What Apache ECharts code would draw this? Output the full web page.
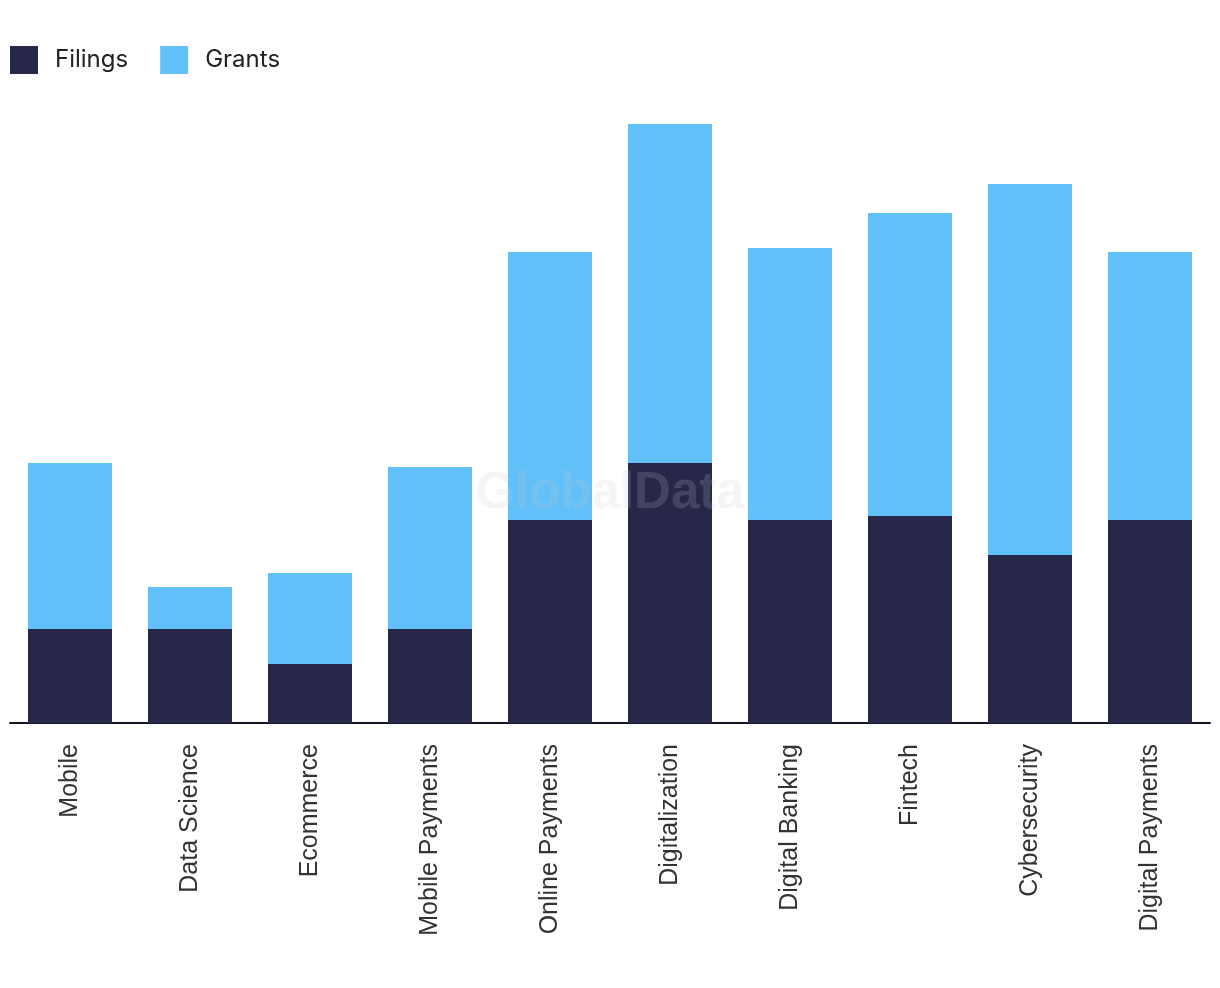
<!DOCTYPE html>
<html><head><meta charset="utf-8">
<script src="https://cdn.jsdelivr.net/npm/echarts@6/dist/echarts.min.js"></script>
<style>html,body{margin:0;padding:0;background:#fff}#c{width:1220px;height:988px}</style>
</head><body><div id="c"></div>
<script>
const categories = ['Mobile','Data Science','Ecommerce','Mobile Payments','Online Payments','Digitalization','Digital Banking','Fintech','Cybersecurity','Digital Payments'];
const filings = [94, 94, 59, 94, 203, 260, 203, 207, 168, 203];
const grants = [166, 42, 91, 162, 268, 339, 272, 303, 371, 268];

const chart = echarts.init(document.getElementById('c'));
chart.setOption({
  animation: false,
  backgroundColor: '#ffffff',
  legend: {
    left: 5, top: 41, itemWidth: 28, itemHeight: 28, itemGap: 32,
    icon: 'rect',
    textStyle: { fontFamily: 'Inter', fontSize: 24, color: '#222', padding: [0,0,0,12] },
    data: ['Filings','Grants']
  },
  graphic: [{
    type: 'text', z: 100,
    style: { x: 610, y: 494, text: 'GlobalData', textAlign: 'center', textVerticalAlign: 'middle',
      font: 'bold 51px "Liberation Sans"', fill: 'rgba(200,200,210,0.18)' }
  }],
  grid: { left: 10, right: 10, top: 73, bottom: 265, containLabel: false },
  xAxis: {
    type: 'category', data: categories,
    axisLine: { lineStyle: { color: '#14142a', width: 2 } },
    axisTick: { show: false },
    axisLabel: { rotate: 90, margin: 21, fontSize: 25, color: '#333', fontFamily: 'Liberation Sans', interval: 0 }
  },
  yAxis: { type: 'value', min: 0, max: 650, show: false, splitLine: { show: false } },
  series: [
    { name: 'Filings', type: 'bar', stack: 't', data: filings, barWidth: '70%', itemStyle: { color: '#272849' } },
    { name: 'Grants', type: 'bar', stack: 't', data: grants, itemStyle: { color: '#61C0F8' } }
  ]
});
</script></body></html>
